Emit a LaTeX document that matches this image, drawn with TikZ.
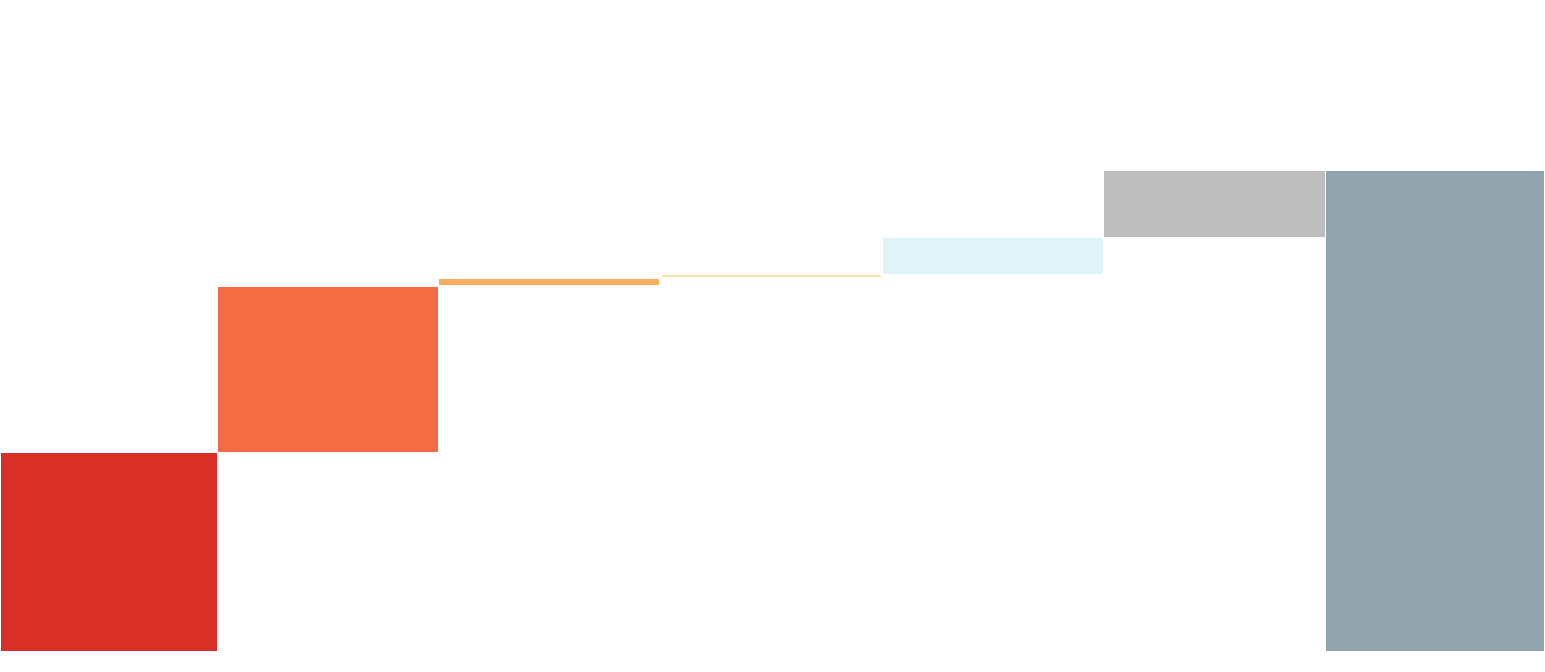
\documentclass[tikz,border=0pt]{standalone}
\definecolor{cA}{HTML}{D93127}
\definecolor{cB}{HTML}{F36C44}
\definecolor{cC}{HTML}{F9AE61}
\definecolor{cD}{HTML}{FBE2A6}
\definecolor{cE}{HTML}{E0F3F8}
\definecolor{cF}{HTML}{BEBEBE}
\definecolor{cG}{HTML}{91A4AD}
\begin{document}
\begin{tikzpicture}[x=1pt,y=-1pt]
\useasboundingbox (0,0) rectangle (1545,672);
\fill[cA] (1,453) rectangle (217,651);
\fill[cB] (218,287) rectangle (438,452);
\fill[cC] (439,279) rectangle (659,285);
\fill[cD] (662,274.5) rectangle (881,277);
\fill[cE] (883,238) rectangle (1103,274);
\fill[cF] (1104,171) rectangle (1325,237);
\fill[cG] (1326,171) rectangle (1544,651);
\end{tikzpicture}
\end{document}
